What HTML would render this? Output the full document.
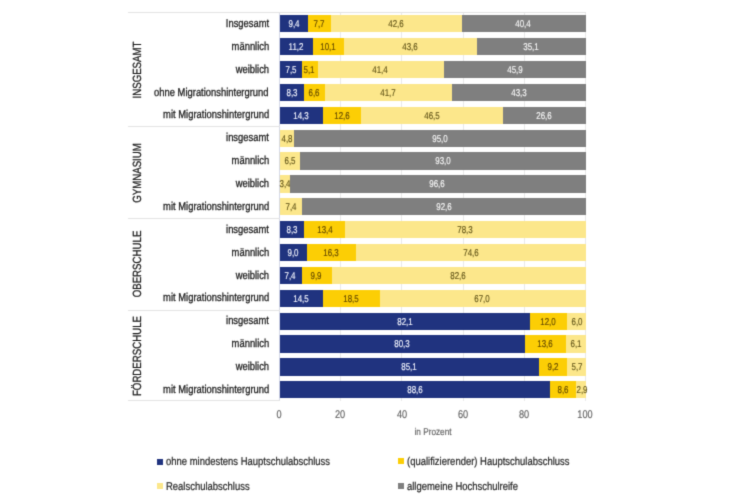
<!DOCTYPE html>
<html><head><meta charset="utf-8"><title>Chart</title>
<style>
html,body{margin:0;padding:0;background:#fff;}
body{width:744px;height:497px;position:relative;overflow:hidden;font-family:"Liberation Sans",sans-serif;text-rendering:geometricPrecision;}
#c{position:absolute;left:0;top:0;width:744px;height:497px;background:#fff;filter:url(#soft);}
.a{position:absolute;}
.seg{position:absolute;height:100%;top:0;}
.t{position:absolute;white-space:nowrap;}
.v{font-size:19.8px;line-height:19.8px;-webkit-text-stroke:0.3px currentColor;transform:translate(-50%,-50%) scale(0.4025,0.5);}
.lab{right:475px;font-size:22.8px;line-height:22.8px;color:#1a1a1a;-webkit-text-stroke:0.6px currentColor;transform-origin:100% 50%;transform:translate(0,-50%) scale(0.4125,0.5);}
.grp{font-size:23.6px;line-height:23.6px;color:#1a1a1a;-webkit-text-stroke:0.6px currentColor;transform:translate(-50%,-50%) rotate(-90deg) scale(0.41,0.5);}
.tick{font-size:22.4px;line-height:22.4px;color:#606060;-webkit-text-stroke:0.3px currentColor;transform:translate(-50%,-50%) scale(0.41,0.5);}
.leg{font-size:22.8px;line-height:22.8px;color:#262626;-webkit-text-stroke:0.45px currentColor;transform-origin:0 50%;transform:translate(0,-50%) scale(0.415,0.5);}
.grid{position:absolute;width:1px;top:12px;height:389px;}
.sep{position:absolute;left:128px;width:152px;height:1px;background:#e3e3e3;}
.sq{position:absolute;width:6px;height:6px;}
</style></head><body>
<svg width="0" height="0" style="position:absolute"><defs><filter id="soft" x="0" y="0" width="100%" height="100%" color-interpolation-filters="sRGB"><feConvolveMatrix order="3" kernelMatrix="0.0196 0.1008 0.0196 0.1008 0.5184 0.1008 0.0196 0.1008 0.0196" edgeMode="duplicate" preserveAlpha="true"/></filter></defs></svg>
<div id="c">

<div class="grid" style="left:279.0px;background:#d4d8e8"></div>
<div class="grid" style="left:340.2px;background:#e9e9e9"></div>
<div class="grid" style="left:401.4px;background:#e9e9e9"></div>
<div class="grid" style="left:462.6px;background:#e9e9e9"></div>
<div class="grid" style="left:523.8px;background:#e9e9e9"></div>
<div class="grid" style="left:585.0px;background:#e9e9e9"></div>
<div class="sep" style="top:11.8px;width:458px"></div>
<div class="sep" style="top:126.3px"></div>
<div class="sep" style="top:218.1px"></div>
<div class="sep" style="top:309.9px"></div>
<div class="sep" style="top:400.1px"></div>
<div class="a" style="left:280.0px;top:15.1px;width:305.7px;height:17.3px">
<div class="seg" style="left:0.00px;width:27.75px;background:#20337f"></div>
<div class="t v" style="left:13.5px;top:9.0px;color:#f4f6ff">9,4</div>
<div class="seg" style="left:27.75px;width:23.55px;background:#fcce05"></div>
<div class="t v" style="left:39.1px;top:9.0px;color:#624800">7,7</div>
<div class="seg" style="left:51.29px;width:130.27px;background:#fce78b"></div>
<div class="t v" style="left:116.0px;top:9.0px;color:#63561a">42,6</div>
<div class="seg" style="left:181.56px;width:124.14px;background:#7f7f7f"></div>
<div class="t v" style="left:243.2px;top:9.0px;color:#f6f6f6">40,4</div>
</div>
<div class="t lab" style="top:22.9px">Insgesamt</div>
<div class="a" style="left:280.0px;top:38.0px;width:305.7px;height:17.3px">
<div class="seg" style="left:0.00px;width:33.25px;background:#20337f"></div>
<div class="t v" style="left:16.2px;top:9.0px;color:#f4f6ff">11,2</div>
<div class="seg" style="left:33.25px;width:30.89px;background:#fcce05"></div>
<div class="t v" style="left:48.3px;top:9.0px;color:#624800">10,1</div>
<div class="seg" style="left:64.14px;width:133.33px;background:#fce78b"></div>
<div class="t v" style="left:130.4px;top:9.0px;color:#63561a">43,6</div>
<div class="seg" style="left:197.46px;width:108.24px;background:#7f7f7f"></div>
<div class="t v" style="left:251.2px;top:9.0px;color:#f6f6f6">35,1</div>
</div>
<div class="t lab" style="top:45.7px">männlich</div>
<div class="a" style="left:280.0px;top:60.9px;width:305.7px;height:17.3px">
<div class="seg" style="left:0.00px;width:21.94px;background:#20337f"></div>
<div class="t v" style="left:10.6px;top:9.0px;color:#f4f6ff">7,5</div>
<div class="seg" style="left:21.94px;width:15.60px;background:#fcce05"></div>
<div class="t v" style="left:29.3px;top:9.0px;color:#624800">5,1</div>
<div class="seg" style="left:37.53px;width:126.60px;background:#fce78b"></div>
<div class="t v" style="left:100.4px;top:9.0px;color:#63561a">41,4</div>
<div class="seg" style="left:164.13px;width:141.57px;background:#7f7f7f"></div>
<div class="t v" style="left:234.5px;top:9.0px;color:#f6f6f6">45,9</div>
</div>
<div class="t lab" style="top:68.6px">weiblich</div>
<div class="a" style="left:280.0px;top:83.7px;width:305.7px;height:17.3px">
<div class="seg" style="left:0.00px;width:24.38px;background:#20337f"></div>
<div class="t v" style="left:11.8px;top:9.0px;color:#f4f6ff">8,3</div>
<div class="seg" style="left:24.38px;width:20.18px;background:#fcce05"></div>
<div class="t v" style="left:34.1px;top:9.0px;color:#624800">6,6</div>
<div class="seg" style="left:44.56px;width:127.52px;background:#fce78b"></div>
<div class="t v" style="left:107.9px;top:9.0px;color:#63561a">41,7</div>
<div class="seg" style="left:172.08px;width:133.62px;background:#7f7f7f"></div>
<div class="t v" style="left:238.5px;top:9.0px;color:#f6f6f6">43,3</div>
</div>
<div class="t lab" style="top:91.5px">ohne Migrationshintergrund</div>
<div class="a" style="left:280.0px;top:106.6px;width:305.7px;height:17.3px">
<div class="seg" style="left:0.00px;width:42.73px;background:#20337f"></div>
<div class="t v" style="left:21.0px;top:9.0px;color:#f4f6ff">14,3</div>
<div class="seg" style="left:42.73px;width:38.53px;background:#fcce05"></div>
<div class="t v" style="left:61.6px;top:9.0px;color:#624800">12,6</div>
<div class="seg" style="left:81.26px;width:142.20px;background:#fce78b"></div>
<div class="t v" style="left:152.0px;top:9.0px;color:#63561a">46,5</div>
<div class="seg" style="left:223.46px;width:82.24px;background:#7f7f7f"></div>
<div class="t v" style="left:264.2px;top:9.0px;color:#f6f6f6">26,6</div>
</div>
<div class="t lab" style="top:114.4px">mit Migrationshintergrund</div>
<div class="a" style="left:280.0px;top:129.5px;width:305.7px;height:17.3px">
<div class="seg" style="left:0.00px;width:14.29px;background:#fce78b"></div>
<div class="t v" style="left:6.7px;top:9.0px;color:#63561a">4,8</div>
<div class="seg" style="left:14.29px;width:291.41px;background:#7f7f7f"></div>
<div class="t v" style="left:159.6px;top:9.0px;color:#f6f6f6">95,0</div>
</div>
<div class="t lab" style="top:137.2px">insgesamt</div>
<div class="a" style="left:280.0px;top:152.4px;width:305.7px;height:17.3px">
<div class="seg" style="left:0.00px;width:20.41px;background:#fce78b"></div>
<div class="t v" style="left:9.8px;top:9.0px;color:#63561a">6,5</div>
<div class="seg" style="left:20.41px;width:285.29px;background:#7f7f7f"></div>
<div class="t v" style="left:162.7px;top:9.0px;color:#f6f6f6">93,0</div>
</div>
<div class="t lab" style="top:160.1px">männlich</div>
<div class="a" style="left:280.0px;top:175.3px;width:305.7px;height:17.3px">
<div class="seg" style="left:0.00px;width:9.86px;background:#fce78b"></div>
<div class="t v" style="left:4.5px;top:9.0px;color:#63561a">3,4</div>
<div class="seg" style="left:9.86px;width:295.84px;background:#7f7f7f"></div>
<div class="t v" style="left:157.4px;top:9.0px;color:#f6f6f6">96,6</div>
</div>
<div class="t lab" style="top:183.0px">weiblich</div>
<div class="a" style="left:280.0px;top:198.1px;width:305.7px;height:17.3px">
<div class="seg" style="left:0.00px;width:22.09px;background:#fce78b"></div>
<div class="t v" style="left:10.6px;top:9.0px;color:#63561a">7,4</div>
<div class="seg" style="left:22.09px;width:283.61px;background:#7f7f7f"></div>
<div class="t v" style="left:163.5px;top:9.0px;color:#f6f6f6">92,6</div>
</div>
<div class="t lab" style="top:205.9px">mit Migrationshintergrund</div>
<div class="a" style="left:280.0px;top:221.0px;width:305.7px;height:17.3px">
<div class="seg" style="left:0.00px;width:24.38px;background:#20337f"></div>
<div class="t v" style="left:11.8px;top:9.0px;color:#f4f6ff">8,3</div>
<div class="seg" style="left:24.38px;width:40.98px;background:#fcce05"></div>
<div class="t v" style="left:44.5px;top:9.0px;color:#624800">13,4</div>
<div class="seg" style="left:65.36px;width:240.34px;background:#fce78b"></div>
<div class="t v" style="left:185.1px;top:9.0px;color:#63561a">78,3</div>
</div>
<div class="t lab" style="top:228.8px">insgesamt</div>
<div class="a" style="left:280.0px;top:243.9px;width:305.7px;height:17.3px">
<div class="seg" style="left:0.00px;width:26.52px;background:#20337f"></div>
<div class="t v" style="left:12.9px;top:9.0px;color:#f4f6ff">9,0</div>
<div class="seg" style="left:26.52px;width:49.85px;background:#fcce05"></div>
<div class="t v" style="left:51.0px;top:9.0px;color:#624800">16,3</div>
<div class="seg" style="left:76.37px;width:229.33px;background:#fce78b"></div>
<div class="t v" style="left:190.6px;top:9.0px;color:#63561a">74,6</div>
</div>
<div class="t lab" style="top:251.6px">männlich</div>
<div class="a" style="left:280.0px;top:266.8px;width:305.7px;height:17.3px">
<div class="seg" style="left:0.00px;width:21.63px;background:#20337f"></div>
<div class="t v" style="left:10.4px;top:9.0px;color:#f4f6ff">7,4</div>
<div class="seg" style="left:21.63px;width:30.27px;background:#fcce05"></div>
<div class="t v" style="left:36.4px;top:9.0px;color:#624800">9,9</div>
<div class="seg" style="left:51.90px;width:253.80px;background:#fce78b"></div>
<div class="t v" style="left:178.4px;top:9.0px;color:#63561a">82,6</div>
</div>
<div class="t lab" style="top:274.5px">weiblich</div>
<div class="a" style="left:280.0px;top:289.7px;width:305.7px;height:17.3px">
<div class="seg" style="left:0.00px;width:43.34px;background:#20337f"></div>
<div class="t v" style="left:21.3px;top:9.0px;color:#f4f6ff">14,5</div>
<div class="seg" style="left:43.34px;width:56.57px;background:#fcce05"></div>
<div class="t v" style="left:71.2px;top:9.0px;color:#624800">18,5</div>
<div class="seg" style="left:99.91px;width:205.79px;background:#fce78b"></div>
<div class="t v" style="left:202.4px;top:9.0px;color:#63561a">67,0</div>
</div>
<div class="t lab" style="top:297.4px">mit Migrationshintergrund</div>
<div class="a" style="left:280.0px;top:312.5px;width:305.7px;height:17.3px">
<div class="seg" style="left:0.00px;width:250.06px;background:#20337f"></div>
<div class="t v" style="left:124.6px;top:9.0px;color:#f4f6ff">82,1</div>
<div class="seg" style="left:250.06px;width:36.70px;background:#fcce05"></div>
<div class="t v" style="left:268.0px;top:9.0px;color:#624800">12,0</div>
<div class="seg" style="left:286.76px;width:18.94px;background:#fce78b"></div>
<div class="t v" style="left:296.7px;top:9.0px;color:#63561a">6,0</div>
</div>
<div class="t lab" style="top:320.3px">insgesamt</div>
<div class="a" style="left:280.0px;top:335.4px;width:305.7px;height:17.3px">
<div class="seg" style="left:0.00px;width:244.56px;background:#20337f"></div>
<div class="t v" style="left:121.9px;top:9.0px;color:#f4f6ff">80,3</div>
<div class="seg" style="left:244.56px;width:41.59px;background:#fcce05"></div>
<div class="t v" style="left:265.0px;top:9.0px;color:#624800">13,6</div>
<div class="seg" style="left:286.15px;width:19.55px;background:#fce78b"></div>
<div class="t v" style="left:296.4px;top:9.0px;color:#63561a">6,1</div>
</div>
<div class="t lab" style="top:343.2px">männlich</div>
<div class="a" style="left:280.0px;top:358.3px;width:305.7px;height:17.3px">
<div class="seg" style="left:0.00px;width:259.24px;background:#20337f"></div>
<div class="t v" style="left:129.2px;top:9.0px;color:#f4f6ff">85,1</div>
<div class="seg" style="left:259.24px;width:28.13px;background:#fcce05"></div>
<div class="t v" style="left:272.9px;top:9.0px;color:#624800">9,2</div>
<div class="seg" style="left:287.37px;width:18.33px;background:#fce78b"></div>
<div class="t v" style="left:297.0px;top:9.0px;color:#63561a">5,7</div>
</div>
<div class="t lab" style="top:366.1px">weiblich</div>
<div class="a" style="left:280.0px;top:381.2px;width:305.7px;height:17.3px">
<div class="seg" style="left:0.00px;width:269.94px;background:#20337f"></div>
<div class="t v" style="left:134.6px;top:9.0px;color:#f4f6ff">88,6</div>
<div class="seg" style="left:269.94px;width:26.30px;background:#fcce05"></div>
<div class="t v" style="left:282.7px;top:9.0px;color:#624800">8,6</div>
<div class="seg" style="left:296.24px;width:9.46px;background:#fce78b"></div>
<div class="t v" style="left:301.5px;top:9.0px;color:#63561a">2,9</div>
</div>
<div class="t lab" style="top:388.9px">mit Migrationshintergrund</div>
<div class="t grp" style="left:138.2px;top:69.8px">INSGESAMT</div>
<div class="t grp" style="left:138.2px;top:172.8px">GYMNASIUM</div>
<div class="t grp" style="left:138.2px;top:264.3px">OBERSCHULE</div>
<div class="t grp" style="left:138.2px;top:355.8px">FÖRDERSCHULE</div>
<div class="t tick" style="left:279.2px;top:415.3px">0</div>
<div class="t tick" style="left:340.4px;top:415.3px">20</div>
<div class="t tick" style="left:401.6px;top:415.3px">40</div>
<div class="t tick" style="left:462.8px;top:415.3px">60</div>
<div class="t tick" style="left:524.0px;top:415.3px">80</div>
<div class="t tick" style="left:585.2px;top:415.3px">100</div>
<div class="t tick" style="left:432.5px;top:431.6px;font-size:19.6px;transform:translate(-50%,-50%) scale(0.42,0.5)">in Prozent</div>
<div class="sq" style="left:156.8px;top:458.5px;background:#20337f"></div>
<div class="t leg" style="left:166.0px;top:460.9px">ohne mindestens Hauptschulabschluss</div>
<div class="sq" style="left:397.7px;top:458.3px;background:#fcce05"></div>
<div class="t leg" style="left:407.4px;top:460.7px">(qualifizierender) Hauptschulabschluss</div>
<div class="sq" style="left:156.8px;top:483.3px;background:#fce78b"></div>
<div class="t leg" style="left:166.0px;top:485.7px">Realschulabschluss</div>
<div class="sq" style="left:397.7px;top:483.3px;background:#7f7f7f"></div>
<div class="t leg" style="left:407.4px;top:485.7px">allgemeine Hochschulreife</div>
</div></body></html>
